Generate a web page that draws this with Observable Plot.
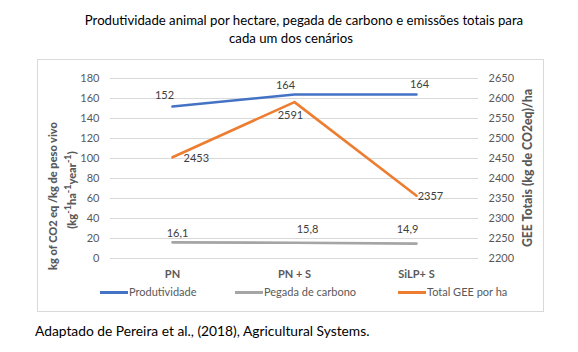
<!DOCTYPE html>
<html>
<head>
<meta charset="utf-8">
<script src="https://cdn.jsdelivr.net/npm/d3@7"></script>
<script src="https://cdn.jsdelivr.net/npm/@observablehq/plot@0.6"></script>
<style>
  html, body { margin: 0; padding: 0; background: #fff; }
  #wrap { position: relative; width: 578px; height: 352px; overflow: hidden; font-family: Lato, sans-serif; }
  #wrap svg { position: absolute; left: 0; top: 0; }
  .t { position: absolute; white-space: nowrap; line-height: 1.2; }
</style>
</head>
<body>
<div id="wrap"></div>
<script>
// ---- data ----
const categories = ["PN", "PN + S", "SiLP+ S"];
const produtividade = [152, 164, 164];
const pegadaCarbono = [16.1, 15.8, 14.9];
const totalGEE = [2453, 2591, 2357];
const leftTicks = [0, 20, 40, 60, 80, 100, 120, 140, 160, 180];
const rightTicks = [2200, 2250, 2300, 2350, 2400, 2450, 2500, 2550, 2600, 2650];
const seriesNames = ["Produtividade", "Pegada de carbono", "Total GEE por ha"];
const colors = ["#4472C4", "#A5A5A5", "#ED7D31"];

// right axis mapped onto left scale
const rMin = rightTicks[0], rMax = rightTicks[rightTicks.length - 1];
const lMax = leftTicks[leftTicks.length - 1];
const toLeft = v => (v - rMin) / (rMax - rMin) * lMax;
const toRight = v => rMin + v / lMax * (rMax - rMin);

const fmt = v => String(v).replace(".", ",");

const rows = s => categories.map((c, i) => ({cat: c, v: s[i]}));
const prodRows = rows(produtividade);
const pegRows = rows(pegadaCarbono);
const geeRows = categories.map((c, i) => ({cat: c, v: toLeft(totalGEE[i]), label: totalGEE[i]}));

// label offsets (style)
const prodOff = [[-8, -11], [-9, -9], [3, -10]];
const pegOff = [[5, -9], [13, -13], [-9, -14]];
const geeOff = [[11, 1, "start"], [-4, 13, "middle"], [14, 1, "middle"]];

const labelMarks = [];
prodRows.forEach((d, i) => labelMarks.push(Plot.text([d], {x: "cat", y: "v", text: r => fmt(r.v), dx: prodOff[i][0], dy: prodOff[i][1], fill: "#404040", fontSize: 11})));
pegRows.forEach((d, i) => labelMarks.push(Plot.text([d], {x: "cat", y: "v", text: r => fmt(r.v), dx: pegOff[i][0], dy: pegOff[i][1], fill: "#404040", fontSize: 11})));
geeRows.forEach((d, i) => labelMarks.push(Plot.text([d], {x: "cat", y: "v", text: r => String(r.label), dx: geeOff[i][0], dy: geeOff[i][1], textAnchor: geeOff[i][2], fill: "#404040", fontSize: 11})));

const chart = Plot.plot({
  width: 578,
  height: 352,
  marginLeft: 110,
  marginRight: 100,
  marginTop: 78,
  marginBottom: 94,
  style: {fontFamily: "Lato, sans-serif", fontSize: "11px", background: "transparent", color: "#595959"},
  x: {type: "point", domain: categories, padding: 0.5},
  y: {domain: [0, lMax]},
  marks: [
    Plot.ruleY(leftTicks, {stroke: "#d9d9d9", strokeWidth: 1}),
    Plot.axisY({anchor: "left", ticks: leftTicks, tickSize: 0, tickPadding: 11, label: null, fill: "#595959", fontSize: 11}),
    Plot.axisY({anchor: "right", ticks: leftTicks, tickSize: 0, tickPadding: 10, tickFormat: v => String(Math.round(toRight(v))), label: null, fill: "#595959", fontSize: 11}),
    Plot.axisX({tickSize: 0, tickPadding: 12, label: null, fontWeight: "bold", fill: "#595959", fontSize: 11}),
    Plot.line(pegRows, {x: "cat", y: "v", stroke: colors[1], strokeWidth: 2.6}),
    Plot.line(geeRows, {x: "cat", y: "v", stroke: colors[2], strokeWidth: 2.6}),
    Plot.line(prodRows, {x: "cat", y: "v", stroke: colors[0], strokeWidth: 2.6}),
    ...labelMarks
  ]
});

const wrap = document.getElementById("wrap");
wrap.appendChild(chart);

function addText(txt, css, html) {
  const d = document.createElement("div");
  d.className = "t";
  if (html) d.innerHTML = txt; else d.textContent = txt;
  Object.assign(d.style, css);
  wrap.appendChild(d);
  return d;
}

// border box
const box = document.createElement("div");
Object.assign(box.style, {position: "absolute", left: "37px", top: "59px", width: "505px", height: "251px", border: "1px solid #d9d9d9", pointerEvents: "none"});
wrap.appendChild(box);

// title
addText("Produtividade animal por hectare, pegada de carbono e emissões totais para", {left: "304px", top: "20.5px", transform: "translate(-50%,-50%)", fontSize: "13.2px", color: "#000"});
addText("cada um dos cenários", {left: "291px", top: "38.5px", transform: "translate(-50%,-50%)", fontSize: "13.2px", color: "#000"});

// left axis title (two lines, rotated)
addText("kg of CO2 eq /kg de peso vivo", {left: "53px", top: "196px", transform: "translate(-50%,-50%) rotate(-90deg)", fontSize: "11px", fontWeight: "900", color: "#595959"});
addText("(kg<sup>-1</sup>ha<sup>-1</sup>year<sup>-1</sup>)", {left: "70px", top: "190px", transform: "translate(-50%,-50%) rotate(-90deg)", fontSize: "11px", fontWeight: "900", color: "#595959"}, true);
// right axis title
addText("GEE Totais (kg de CO2eq)/ha", {left: "528px", top: "168px", transform: "translate(-50%,-50%) rotate(-90deg)", fontSize: "12.3px", fontWeight: "900", color: "#595959"});

// legend
const legendX = [100, 235, 398];
seriesNames.forEach((name, i) => {
  const ln = document.createElement("div");
  Object.assign(ln.style, {position: "absolute", left: legendX[i] + "px", top: "291px", width: "28px", height: "3px", background: colors[i]});
  wrap.appendChild(ln);
  addText(name, {left: (legendX[i] + 29) + "px", top: "285px", fontSize: "11px", color: "#595959"});
});

// caption
addText("Adaptado de Pereira et al., (2018), Agricultural Systems.", {left: "35px", top: "331px", transform: "translateY(-50%)", fontSize: "13.8px", color: "#000"});
</script>
</body>
</html>
